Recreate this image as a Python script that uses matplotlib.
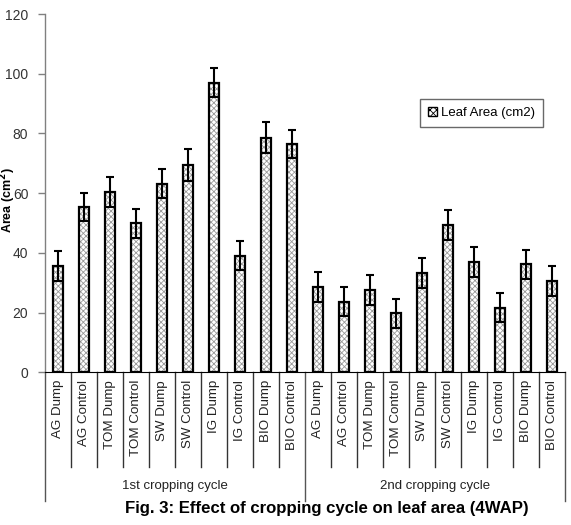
import matplotlib
matplotlib.use("Agg")
import matplotlib.pyplot as plt
import matplotlib.patches as mpatches
from matplotlib.transforms import blended_transform_factory
import numpy as np

plt.rcParams['font.family'] = ['Liberation Sans', 'DejaVu Sans']
plt.rcParams['hatch.linewidth'] = 0.6

treatments = ["AG Dump", "AG Control", "TOM Dump", "TOM Control", "SW Dump",
              "SW Control", "IG Dump", "IG Control", "BIO Dump", "BIO Control"]
cycles = ["1st cropping cycle", "2nd cropping cycle"]
cycle1 = [35.5, 55.4, 60.5, 49.9, 63.2, 69.5, 97.0, 39.0, 78.5, 76.5]
cycle2 = [28.5, 23.7, 27.5, 19.8, 33.2, 49.3, 36.9, 21.7, 36.2, 30.7]
err1 = [5.0, 4.8, 5.0, 4.9, 4.8, 5.4, 4.9, 4.9, 5.2, 4.8]
err2 = [5.0, 4.8, 5.0, 4.9, 5.0, 5.0, 5.0, 4.8, 4.9, 5.0]
series_name = "Leaf Area (cm2)"
yticks = [0, 20, 40, 60, 80, 100, 120]

labels = treatments + treatments
values = cycle1 + cycle2
errs = err1 + err2
n = len(values)
x = np.arange(n)

fig = plt.figure(figsize=(5.71, 5.25), dpi=100)
ax = fig.add_axes([45/571, 1 - 372.3/525, 520/571, 358.3/525])

# hatched fill
ax.bar(x, values, width=0.42, color='white', edgecolor='#9a9a9a', hatch='xxxxxx', linewidth=0)
# outline
ax.bar(x, values, width=0.42, color='none', edgecolor='black', linewidth=1.6)
ax.errorbar(x, values, yerr=errs, fmt='none', ecolor='black', elinewidth=1.5,
            capsize=3, capthick=1.5)

ax.set_xlim(-0.5, n - 0.5)
ax.set_ylim(0, 120)
ax.set_yticks(yticks)
ax.tick_params(axis='y', direction='out', length=5, color='#808080', labelsize=10,
               labelcolor='#333333', width=1, pad=7)
ax.set_xticks([])
for s in ['top', 'right']:
    ax.spines[s].set_visible(False)
ax.spines['left'].set_color('#808080')
ax.spines['bottom'].set_color('black')
ax.spines['left'].set_linewidth(1)

fig.text(8.5/571, 1 - 200/525, "Area (cm$^\\mathbf{2}$)", rotation=90, ha='center',
         va='center', fontsize=9, fontweight='bold')

trans = blended_transform_factory(ax.transData, ax.transAxes)
sub_bottom = (372.3 - 467) / 358.3
grp_bottom = (372.3 - 501) / 358.3
for i in range(n + 1):
    xb = i - 0.5
    if i % 10 == 0:
        ax.plot([xb, xb], [0, grp_bottom], transform=trans, color='#555555',
                lw=1, clip_on=False)
    else:
        ax.plot([xb, xb], [0, sub_bottom], transform=trans, color='#333333',
                lw=1, clip_on=False)
lab_top = (372.3 - 380) / 358.3
for i, lab in enumerate(labels):
    ax.text(i, lab_top, lab, transform=trans, rotation=90, ha='center', va='top',
            fontsize=9.6, color='#222222')
grp_y = (372.3 - 486) / 358.3
for g, name in enumerate(cycles):
    ax.text(g * 10 + 4.5, grp_y, name, transform=trans, ha='center', va='center',
            fontsize=9.5, color='#222222')

fig.text(327/571, 1 - 509/525, "Fig. 3: Effect of cropping cycle on leaf area (4WAP)",
         ha='center', va='center', fontsize=12.1, fontweight='bold')

handle = mpatches.Patch(facecolor='white', edgecolor='black', hatch='xxxxx', linewidth=1)
leg = fig.legend([handle], [series_name], loc='upper left',
                 bbox_to_anchor=(420/571, 1 - 99/525), frameon=True, fancybox=False,
                 fontsize=9.5, handlelength=0.7, handleheight=0.7, handletextpad=0.3,
                 borderpad=0.6, borderaxespad=0)
leg.get_frame().set_edgecolor('#444444')
leg.get_frame().set_linewidth(1)

fig.savefig("out.png", dpi=100)
